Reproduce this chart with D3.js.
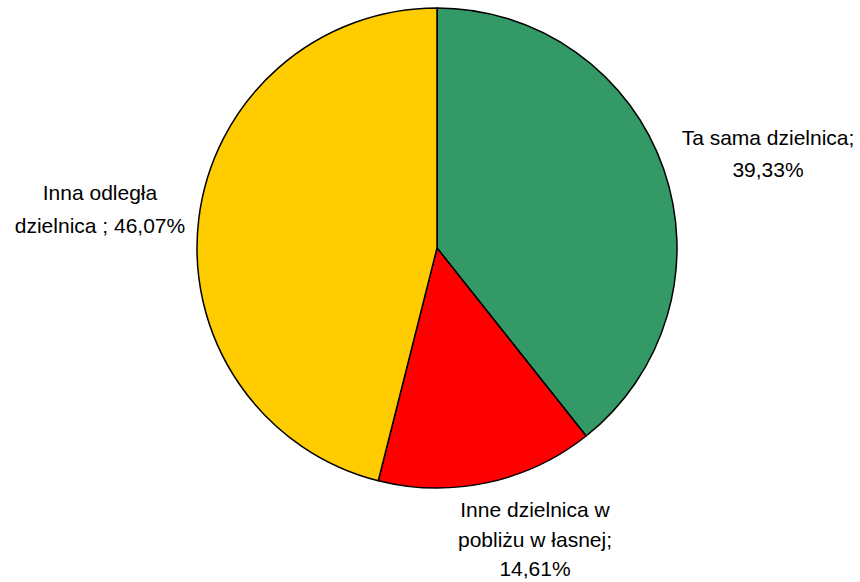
<!DOCTYPE html>
<html>
<head>
<meta charset="utf-8">
<script src="https://cdn.jsdelivr.net/npm/d3@7"></script>
<style>
  html, body { margin: 0; padding: 0; background: #fff; }
  svg { display: block; }
</style>
</head>
<body>
<svg id="chart" width="860" height="582"></svg>
<script>
const categories = ["Ta sama dzielnica", "Inne dzielnica w pobliżu w łasnej", "Inna odległa dzielnica"];
const values = [39.33, 14.61, 46.07];
const colors = ["#339966", "#FF0000", "#FFCC00"];
const labelLines = [
  ["Ta sama dzielnica;", "39,33%"],
  ["Inne dzielnica w", "pobliżu w łasnej;", "14,61%"],
  ["Inna odległa", "dzielnica ; 46,07%"]
];

const svg = d3.select("#chart");
const cx = 437, cy = 248, r = 240;
const g = svg.append("g").attr("transform", `translate(${cx},${cy})`);

const pie = d3.pie().sort(null).value(d => d)(values);
const arc = d3.arc().innerRadius(0).outerRadius(r);

g.selectAll("path.slice")
  .data(pie)
  .join("path")
  .attr("class", "slice")
  .attr("d", arc)
  .attr("fill", (d, i) => colors[i])
  .attr("stroke", "#000")
  .attr("stroke-width", 1.5)
  .attr("stroke-linejoin", "round");

// label anchor positions (centre of text block, first baseline)
const labelPos = [
  { x: 768, y: 145, lh: 32 },
  { x: 535, y: 517, lh: 29.5 },
  { x: 100, y: 200, lh: 32.5 }
];

labelLines.forEach((lines, i) => {
  const t = svg.append("text")
    .attr("x", labelPos[i].x)
    .attr("y", labelPos[i].y)
    .attr("text-anchor", "middle")
    .attr("font-family", "Liberation Sans, Arial, sans-serif")
    .attr("font-size", 21)
    .attr("fill", "#000");
  lines.forEach((s, j) => {
    t.append("tspan")
      .attr("x", labelPos[i].x)
      .attr("y", labelPos[i].y + j * labelPos[i].lh)
      .text(s);
  });
});
</script>
</body>
</html>
